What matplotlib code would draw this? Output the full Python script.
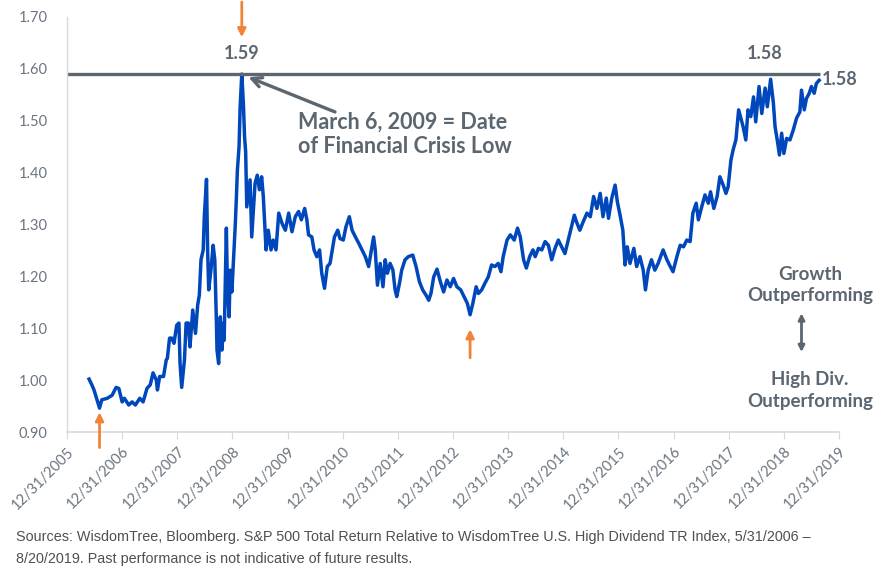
import matplotlib
matplotlib.use('Agg')
import matplotlib.pyplot as plt

# time in decimal years (12/31/2005 = 2006.0), value = S&P 500 TR / High Div TR
years = [2006.40, 2006.45, 2006.49, 2006.59, 2006.63, 2006.73, 2006.82, 2006.89, 2006.94, 2007.00,
         2007.04, 2007.12, 2007.18, 2007.24, 2007.32, 2007.38, 2007.45, 2007.51, 2007.56, 2007.62,
         2007.64, 2007.68, 2007.75, 2007.80, 2007.82, 2007.86, 2007.90, 2007.94, 2007.99, 2008.03,
         2008.05, 2008.08, 2008.13, 2008.16, 2008.20, 2008.23, 2008.28, 2008.33, 2008.37, 2008.40,
         2008.43, 2008.47, 2008.49, 2008.53, 2008.55, 2008.57, 2008.61, 2008.65, 2008.68, 2008.71,
         2008.72, 2008.75, 2008.78, 2008.81, 2008.84, 2008.85, 2008.89, 2008.91, 2008.94, 2008.96,
         2008.99, 2009.02, 2009.05, 2009.07, 2009.09, 2009.12, 2009.14, 2009.17, 2009.20, 2009.22,
         2009.24, 2009.26, 2009.32, 2009.35, 2009.41, 2009.45, 2009.49, 2009.53, 2009.56, 2009.61,
         2009.65, 2009.70, 2009.74, 2009.79, 2009.84, 2009.90, 2009.96, 2010.02, 2010.08, 2010.14,
         2010.20, 2010.25, 2010.31, 2010.35, 2010.38, 2010.44, 2010.48, 2010.53, 2010.58, 2010.62,
         2010.67, 2010.72, 2010.77, 2010.85, 2010.91, 2010.95, 2011.01, 2011.06, 2011.12, 2011.17,
         2011.23, 2011.29, 2011.35, 2011.41, 2011.47, 2011.52, 2011.56, 2011.59, 2011.63, 2011.68,
         2011.73, 2011.77, 2011.81, 2011.86, 2011.91, 2011.95, 2011.98, 2012.03, 2012.07, 2012.13,
         2012.19, 2012.27, 2012.33, 2012.39, 2012.45, 2012.51, 2012.56, 2012.60, 2012.65, 2012.71,
         2012.77, 2012.83, 2012.89, 2012.95, 2013.01, 2013.07, 2013.14, 2013.20, 2013.26, 2013.31,
         2013.36, 2013.42, 2013.46, 2013.52, 2013.58, 2013.64, 2013.70, 2013.76, 2013.82, 2013.87,
         2013.91, 2013.98, 2014.04, 2014.11, 2014.17, 2014.22, 2014.28, 2014.33, 2014.39, 2014.45,
         2014.49, 2014.55, 2014.61, 2014.67, 2014.73, 2014.79, 2014.85, 2014.91, 2014.97, 2015.03,
         2015.09, 2015.15, 2015.20, 2015.24, 2015.30, 2015.36, 2015.43, 2015.49, 2015.55, 2015.61,
         2015.67, 2015.72, 2015.78, 2015.82, 2015.88, 2015.94, 2015.98, 2016.03, 2016.08, 2016.12,
         2016.16, 2016.21, 2016.28, 2016.33, 2016.39, 2016.45, 2016.49, 2016.54, 2016.60, 2016.66,
         2016.72, 2016.81, 2016.88, 2016.94, 2016.99, 2017.06, 2017.12, 2017.18, 2017.24, 2017.30,
         2017.35, 2017.41, 2017.45, 2017.51, 2017.57, 2017.63, 2017.67, 2017.73, 2017.79, 2017.84,
         2017.90, 2017.95, 2017.99, 2018.04, 2018.08, 2018.13, 2018.18, 2018.22, 2018.26, 2018.31,
         2018.35, 2018.40, 2018.45, 2018.49, 2018.55, 2018.60, 2018.66, 2018.70, 2018.76, 2018.81,
         2018.84, 2018.88, 2018.92, 2018.96, 2019.00, 2019.05, 2019.11, 2019.17, 2019.23, 2019.29,
         2019.32, 2019.37, 2019.41, 2019.46, 2019.50, 2019.55, 2019.59, 2019.64]
ratio = [1.002, 0.991, 0.981, 0.946, 0.962, 0.965, 0.971, 0.986, 0.984, 0.958,
         0.965, 0.952, 0.958, 0.952, 0.965, 0.958, 0.984, 0.991, 1.014, 1.000,
         0.981, 1.007, 1.007, 1.039, 1.042, 1.081, 1.081, 1.071, 1.106, 1.110,
         1.032, 0.986, 1.039, 1.110, 1.110, 1.064, 1.135, 1.090, 1.145, 1.164,
         1.232, 1.251, 1.315, 1.387, 1.251, 1.174, 1.212, 1.260, 1.232, 1.110,
         1.058, 1.032, 1.122, 1.058, 1.110, 1.077, 1.293, 1.174, 1.122, 1.212,
         1.170, 1.232, 1.296, 1.347, 1.405, 1.450, 1.527, 1.590, 1.530, 1.469,
         1.440, 1.334, 1.386, 1.276, 1.379, 1.395, 1.367, 1.392, 1.354, 1.251,
         1.289, 1.251, 1.270, 1.251, 1.322, 1.302, 1.289, 1.322, 1.286, 1.315,
         1.325, 1.309, 1.331, 1.309, 1.280, 1.276, 1.251, 1.238, 1.251, 1.206,
         1.177, 1.219, 1.225, 1.276, 1.289, 1.273, 1.270, 1.296, 1.315, 1.289,
         1.276, 1.264, 1.251, 1.238, 1.219, 1.251, 1.276, 1.251, 1.183, 1.225,
         1.180, 1.232, 1.206, 1.225, 1.212, 1.174, 1.161, 1.187, 1.212, 1.232,
         1.238, 1.241, 1.219, 1.190, 1.174, 1.164, 1.154, 1.167, 1.199, 1.214,
         1.190, 1.170, 1.193, 1.180, 1.196, 1.180, 1.174, 1.161, 1.148, 1.126,
         1.148, 1.180, 1.167, 1.174, 1.187, 1.199, 1.222, 1.219, 1.225, 1.209,
         1.238, 1.270, 1.280, 1.270, 1.293, 1.276, 1.232, 1.216, 1.238, 1.251,
         1.238, 1.254, 1.251, 1.267, 1.260, 1.232, 1.254, 1.270, 1.257, 1.244,
         1.270, 1.296, 1.318, 1.305, 1.289, 1.305, 1.322, 1.315, 1.354, 1.331,
         1.360, 1.315, 1.351, 1.312, 1.351, 1.376, 1.344, 1.318, 1.289, 1.222,
         1.257, 1.225, 1.254, 1.219, 1.238, 1.212, 1.174, 1.212, 1.232, 1.212,
         1.225, 1.251, 1.232, 1.219, 1.209, 1.238, 1.260, 1.257, 1.270, 1.267,
         1.322, 1.341, 1.309, 1.334, 1.357, 1.341, 1.363, 1.331, 1.354, 1.392,
         1.376, 1.360, 1.373, 1.424, 1.444, 1.463, 1.521, 1.505, 1.489, 1.463,
         1.521, 1.508, 1.546, 1.498, 1.566, 1.514, 1.563, 1.527, 1.580, 1.534,
         1.489, 1.463, 1.434, 1.476, 1.437, 1.466, 1.463, 1.482, 1.505, 1.517,
         1.559, 1.521, 1.543, 1.553, 1.566, 1.553, 1.572, 1.578]

tick_years = list(range(2006, 2021))
tick_labels = ['12/31/%d' % (y - 1) for y in tick_years]
y_ticks = [0.90, 1.00, 1.10, 1.20, 1.30, 1.40, 1.50, 1.60, 1.70]

peak_level = 1.59
peak_year = 2009.17
recent_peak_year = 2018.76
last_value = 1.58
low_years = [2006.59, 2013.31]

blue = '#0047BB'
gray = '#5B6670'
light = '#D9D9D9'
orange = '#F0833A'

plt.rcParams['font.family'] = ['Lato', 'DejaVu Sans']

fig = plt.figure(figsize=(8.8, 5.76), dpi=100)
ax = fig.add_axes([67 / 880, 144 / 576, 772 / 880, 415 / 576])

ax.plot(years, ratio, color=blue, lw=2.5, solid_joinstyle='round')
ax.hlines(peak_level, 2006, years[-1] + 0.01, color=gray, lw=2.4)

ax.set_xlim(2006, 2020)
ax.set_ylim(0.90, 1.70)
ax.set_xticks(tick_years)
ax.set_xticklabels(tick_labels, rotation=45, ha='right', rotation_mode='anchor',
                   fontsize=10.5, color='#6B7480')
ax.set_yticks(y_ticks)
ax.set_yticklabels(['%.2f' % v for v in y_ticks], fontsize=10.5, color='#6B7480')
ax.tick_params(axis='y', length=0, pad=14)
ax.tick_params(axis='x', length=5, color=light, pad=4)
for s in ['top', 'right']:
    ax.spines[s].set_visible(False)
ax.spines['left'].set_color(light)
ax.spines['bottom'].set_color(light)
ax.spines['left'].set_linewidth(1.0)
ax.spines['bottom'].set_linewidth(1.2)

bold = dict(color=gray, fontweight='bold')
ax.text(peak_year, 1.630, '%.2f' % peak_level, ha='center', va='center', fontsize=13, **bold)
ax.text(recent_peak_year - 0.1, 1.630, '%.2f' % 1.58, ha='center', va='center', fontsize=13, **bold)
ax.text(years[-1] + 0.04, last_value, '%.2f' % last_value, ha='left', va='center', fontsize=13, **bold)

# orange markers
ax.annotate('', xy=(peak_year, 1.661), xytext=(peak_year, 1.729), annotation_clip=False,
            arrowprops=dict(arrowstyle='-|>', color=orange, lw=2, mutation_scale=12, shrinkA=0, shrinkB=0))
ax.annotate('', xy=(low_years[0], 0.938), xytext=(low_years[0], 0.870), annotation_clip=False,
            arrowprops=dict(arrowstyle='-|>', color=orange, lw=2, mutation_scale=12, shrinkA=0, shrinkB=0))
ax.annotate('', xy=(low_years[1], 1.098), xytext=(low_years[1], 1.043), annotation_clip=False,
            arrowprops=dict(arrowstyle='-|>', color=orange, lw=2, mutation_scale=12, shrinkA=0, shrinkB=0))

ax.annotate('', xy=(2009.29, 1.584), xytext=(2010.86, 1.517), annotation_clip=False,
            arrowprops=dict(arrowstyle='->,head_width=0.35,head_length=0.7', color=gray, lw=2.4,
                            shrinkA=0, shrinkB=0))
ax.text(2010.19, 1.474, 'March 6, 2009 = Date\nof Financial Crisis Low', ha='left', va='center',
        fontsize=15.5, linespacing=1.2, **bold)

ax.text(2019.47, 1.184, 'Growth\nOutperforming', ha='center', va='center', fontsize=13.5,
        linespacing=1.3, clip_on=False, **bold)
ax.text(2019.47, 0.980, 'High Div.\nOutperforming', ha='center', va='center', fontsize=13.5,
        linespacing=1.3, clip_on=False, **bold)
ax.annotate('', xy=(2019.32, 1.129), xytext=(2019.32, 1.054), annotation_clip=False,
            arrowprops=dict(arrowstyle='<|-|>', color=gray, lw=2, mutation_scale=9, shrinkA=0, shrinkB=0))

note = dict(ha='left', va='center', fontsize=10.4, color='#505050', family=['Liberation Sans', 'DejaVu Sans'])
fig.text(16 / 880, 1 - 537 / 576,
         'Sources: WisdomTree, Bloomberg. S&P 500 Total Return Relative to WisdomTree U.S. High Dividend TR Index, 5/31/2006 \u2013',
         **note)
fig.text(16 / 880, 1 - 559 / 576,
         '8/20/2019. Past performance is not indicative of future results.', **note)

fig.savefig('out.png', dpi=100)
